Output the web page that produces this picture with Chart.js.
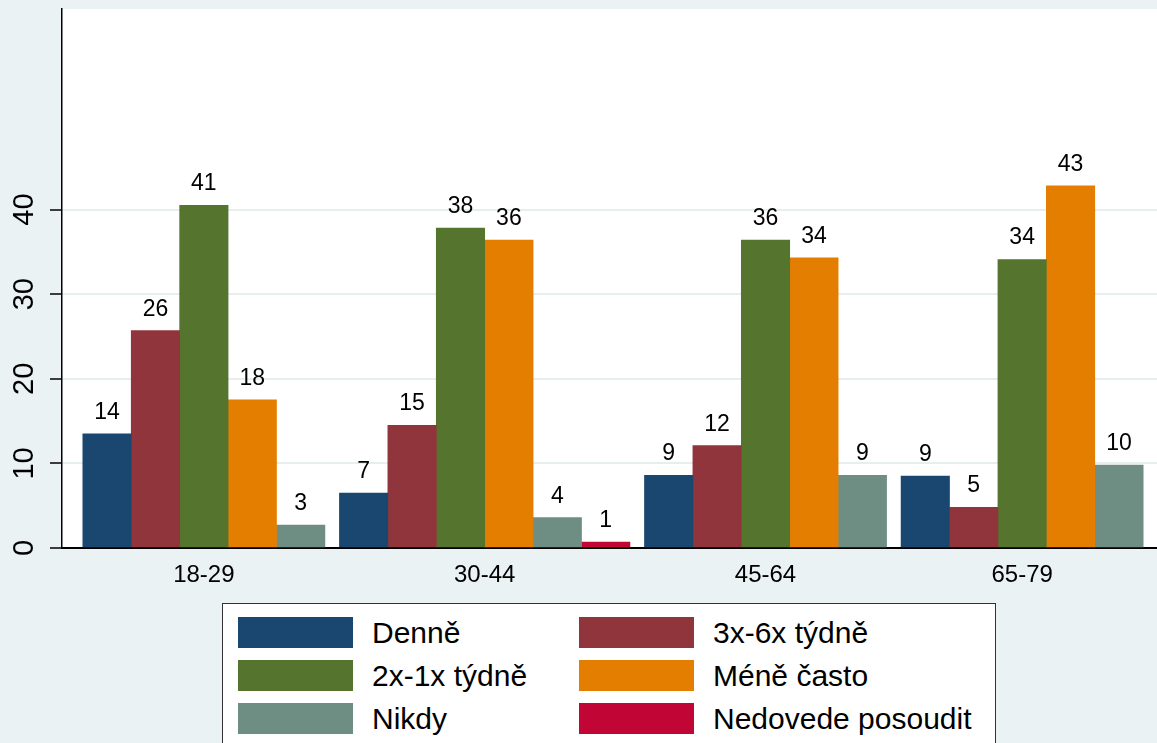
<!DOCTYPE html>
<html>
<head>
    <meta charset="utf-8">
    <title>Frekvence podle věkových skupin</title>
    <script src="https://cdn.jsdelivr.net/npm/chart.js"></script>
    <style>
        html, body {
            margin: 0;
            padding: 0;
            overflow: hidden;
            background-color: #eaf2f3;
        }
        #wrap {
            position: relative;
            width: 1157px;
            height: 743px;
            overflow: hidden;
        }
        #graf {
            position: absolute;
            left: 0;
            top: 0;
        }
        #legenda {
            position: absolute;
            left: 222px;
            top: 603px;
            width: 774px;
            height: 170px;
            background-color: #fff;
            border: 1.5px solid #333;
            box-sizing: border-box;
            padding: 13px 0 0 15px;
            display: grid;
            grid-template-columns: 341px 341px;
            grid-auto-rows: 31px;
            row-gap: 12px;
            font-family: "Liberation Sans", Arial, sans-serif;
            font-size: 30px;
            color: #000;
        }
        .polozka {
            display: flex;
            align-items: center;
            white-space: nowrap;
        }
        .polozka .barva {
            width: 115px;
            height: 31px;
            margin-right: 19px;
            flex: none;
        }
    </style>
</head>
<body>
    <div id="wrap">
        <canvas id="graf" width="1170" height="600"></canvas>
        <div id="legenda"></div>
    </div>

    <script>
        // vekove skupiny a odpovedi
        const ageGroups = ['18-29', '30-44', '45-64', '65-79'];
        const responses = ['Denně', '3x-6x týdně', '2x-1x týdně', 'Méně často', 'Nikdy', 'Nedovede posoudit'];

        // procenta (null = kategorie v dane skupine chybi)
        const denne      = [13.5, 6.5, 8.6, 8.5];
        const tyden3az6  = [25.7, 14.5, 12.1, 4.8];
        const tyden1az2  = [40.5, 37.8, 36.4, 34.1];
        const meneCasto  = [17.5, 36.4, 34.3, 42.8];
        const nikdy      = [2.7, 3.6, 8.6, 9.8];
        const nedovede   = [null, 0.7, null, null];

        const yTicks = [0, 10, 20, 30, 40];

        const series = [denne, tyden3az6, tyden1az2, meneCasto, nikdy, nedovede];
        const colors = ['#1a476f', '#90353b', '#55752f', '#e37e00', '#6e8e84', '#c10534'];

        const FONT = '"Liberation Sans", Arial, sans-serif';
        const GAP = 0.3;   // mezera mezi skupinami (v sirkach sloupce)
        const EDGE = 0.43; // okraj u osy

        // rozlozeni sloupcu: chybejici kategorie se vynechavaji (jako nofill)
        const points = series.map(() => []);
        const centers = [];
        let pos = 0;
        ageGroups.forEach((g, gi) => {
            const first = pos;
            series.forEach((arr, si) => {
                if (arr[gi] !== null) {
                    points[si].push({ x: pos, y: arr[gi] });
                    pos += 1;
                }
            });
            centers.push((first + pos - 1) / 2);
            pos += GAP;
        });
        const xMin = -0.5 - EDGE;
        const xMax = pos - GAP - 1 + 0.5 + EDGE;

        const plotBg = {
            id: 'plotBg',
            beforeDraw(chart) {
                const { ctx, chartArea: a } = chart;
                ctx.save();
                ctx.fillStyle = '#fff';
                ctx.fillRect(a.left, a.top, a.right - a.left, a.bottom - a.top);
                ctx.restore();
            }
        };

        const valueLabels = {
            id: 'valueLabels',
            afterDatasetsDraw(chart) {
                const ctx = chart.ctx;
                ctx.save();
                ctx.font = '23px ' + FONT;
                ctx.fillStyle = '#000';
                ctx.textAlign = 'center';
                ctx.textBaseline = 'alphabetic';
                chart.data.datasets.forEach((ds, i) => {
                    chart.getDatasetMeta(i).data.forEach((el, j) => {
                        ctx.fillText(String(Math.round(ds.data[j].y)), el.x, el.y - 15);
                    });
                });
                ctx.restore();
            }
        };

        new Chart(document.getElementById('graf'), {
            type: 'bar',
            data: {
                datasets: responses.map((name, i) => ({
                    label: name,
                    data: points[i],
                    backgroundColor: colors[i],
                    borderWidth: 0,
                    grouped: false,
                    categoryPercentage: 1,
                    barPercentage: 1
                }))
            },
            options: {
                responsive: false,
                animation: false,
                layout: {
                    autoPadding: false,
                    padding: { top: 9, left: 0, right: 6, bottom: 0 }
                },
                plugins: {
                    legend: { display: false },
                    tooltip: { enabled: false }
                },
                scales: {
                    x: {
                        type: 'linear',
                        min: xMin,
                        max: xMax,
                        offset: false,
                        bounds: 'data',
                        grid: { display: false, drawTicks: false },
                        border: { display: true, color: '#000', width: 2 },
                        afterBuildTicks: s => { s.ticks = centers.map(v => ({ value: v })); },
                        afterFit: s => { s.height = 52; s.paddingLeft = 0; s.paddingRight = 0; },
                        ticks: {
                            autoSkip: false,
                            maxRotation: 0,
                            padding: 13,
                            color: '#000',
                            font: { family: FONT, size: 24 },
                            callback: (v, i) => ageGroups[i]
                        }
                    },
                    y: {
                        min: 0,
                        max: 63.7,
                        afterBuildTicks: s => { s.ticks = yTicks.map(v => ({ value: v })); },
                        afterFit: s => { s.width = 62; s.paddingTop = 0; s.paddingBottom = 0; },
                        grid: {
                            color: c => c.tick && c.tick.value === 0 ? 'rgba(0,0,0,0)' : '#e6eef0',
                            lineWidth: 2,
                            tickColor: '#000',
                            tickLength: 12,
                            tickWidth: 1.5
                        },
                        border: { display: true, color: '#000', width: 1.5 },
                        ticks: {
                            autoSkip: false,
                            minRotation: 90,
                            maxRotation: 90,
                            crossAlign: 'center',
                            padding: 9,
                            color: '#000',
                            font: { family: FONT, size: 29 }
                        }
                    }
                }
            },
            plugins: [plotBg, valueLabels]
        });

        // legenda
        const leg = document.getElementById('legenda');
        responses.forEach((name, i) => {
            const item = document.createElement('div');
            item.className = 'polozka';
            item.innerHTML = '<span class="barva" style="background-color:' + colors[i] + '"></span><span>' + name + '</span>';
            leg.appendChild(item);
        });
    </script>
</body>
</html>
